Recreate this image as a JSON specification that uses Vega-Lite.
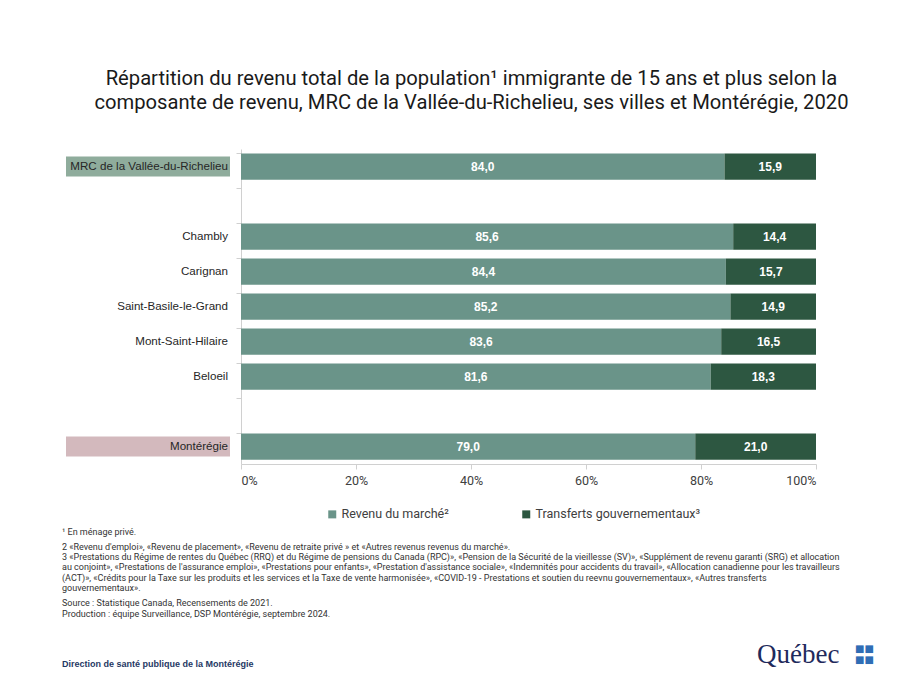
{
  "$schema": "https://vega.github.io/schema/vega-lite/v6.json",
  "padding": {"left": 55, "top": 68, "right": 0, "bottom": 0},
  "background": "white",
  "config": {
    "locale": {"number": {"decimal": ",", "thousands": "\u00a0", "grouping": [3], "currency": ["", "\u00a0$"]}},
    "view": {"stroke": null},
    "concat": {"spacing": 0}
  },
  "title": {
    "text": ["Répartition du revenu total de la population¹ immigrante de 15 ans et plus selon la", "composante de revenu, MRC de la Vallée-du-Richelieu, ses villes et Montérégie, 2020"],
    "font": "Roboto",
    "fontSize": 20.2,
    "fontWeight": "normal",
    "color": "#1a1a1a",
    "lineHeight": 24,
    "anchor": "middle",
    "dx": 7,
    "offset": 36
  },
  "datasets": {
    "revenu": [
      {"lieu": "MRC de la Vallée-du-Richelieu", "composante": "Revenu du marché²", "ordre": 1, "valeur": 84.0},
      {"lieu": "MRC de la Vallée-du-Richelieu", "composante": "Transferts gouvernementaux³", "ordre": 2, "valeur": 15.9},
      {"lieu": "Chambly", "composante": "Revenu du marché²", "ordre": 1, "valeur": 85.6},
      {"lieu": "Chambly", "composante": "Transferts gouvernementaux³", "ordre": 2, "valeur": 14.4},
      {"lieu": "Carignan", "composante": "Revenu du marché²", "ordre": 1, "valeur": 84.4},
      {"lieu": "Carignan", "composante": "Transferts gouvernementaux³", "ordre": 2, "valeur": 15.7},
      {"lieu": "Saint-Basile-le-Grand", "composante": "Revenu du marché²", "ordre": 1, "valeur": 85.2},
      {"lieu": "Saint-Basile-le-Grand", "composante": "Transferts gouvernementaux³", "ordre": 2, "valeur": 14.9},
      {"lieu": "Mont-Saint-Hilaire", "composante": "Revenu du marché²", "ordre": 1, "valeur": 83.6},
      {"lieu": "Mont-Saint-Hilaire", "composante": "Transferts gouvernementaux³", "ordre": 2, "valeur": 16.5},
      {"lieu": "Beloeil", "composante": "Revenu du marché²", "ordre": 1, "valeur": 81.6},
      {"lieu": "Beloeil", "composante": "Transferts gouvernementaux³", "ordre": 2, "valeur": 18.3},
      {"lieu": "Montérégie", "composante": "Revenu du marché²", "ordre": 1, "valeur": 79.0},
      {"lieu": "Montérégie", "composante": "Transferts gouvernementaux³", "ordre": 2, "valeur": 21.0}
    ],
    "etiquettes": [
      {"lieu": "MRC de la Vallée-du-Richelieu", "type": "MRC"},
      {"lieu": "Chambly", "type": "ville"},
      {"lieu": "Carignan", "type": "ville"},
      {"lieu": "Saint-Basile-le-Grand", "type": "ville"},
      {"lieu": "Mont-Saint-Hilaire", "type": "ville"},
      {"lieu": "Beloeil", "type": "ville"},
      {"lieu": "Montérégie", "type": "région"}
    ]
  },
  "vconcat": [
    {
      "hconcat": [
        {
          "width": 180,
          "height": 315,
          "data": {"name": "etiquettes"},
          "layer": [
            {
              "transform": [{"filter": "datum.type !== 'ville'"}],
              "mark": {"type": "bar", "height": 20},
              "encoding": {
                "y": {"field": "lieu", "type": "nominal", "axis": null,
                      "scale": {"domain": ["MRC de la Vallée-du-Richelieu", "vide1", "Chambly", "Carignan", "Saint-Basile-le-Grand", "Mont-Saint-Hilaire", "Beloeil", "vide2", "Montérégie"], "paddingInner": 0.25, "paddingOuter": 0.125}},
                "x": {"datum": 11, "type": "quantitative", "axis": null, "scale": {"domain": [0, 180], "nice": false, "zero": false}},
                "x2": {"datum": 175},
                "color": {"field": "type", "type": "nominal", "legend": null,
                          "scale": {"domain": ["MRC", "région"], "range": ["#8fac9c", "#d3b9bd"]}}
              }
            },
            {
              "mark": {"type": "text", "align": "right", "baseline": "middle", "font": "Liberation Sans", "fontSize": 11.6, "color": "#262626"},
              "encoding": {
                "y": {"field": "lieu", "type": "nominal", "axis": null},
                "x": {"datum": 173, "type": "quantitative"},
                "text": {"field": "lieu"}
              }
            }
          ]
        },
        {
          "width": 575,
          "height": 315,
          "data": {"name": "revenu"},
          "transform": [
            {"stack": "valeur", "groupby": ["lieu"], "sort": [{"field": "ordre", "order": "ascending"}], "offset": "normalize", "as": ["x0", "x1"]},
            {"calculate": "(datum.x0 + datum.x1) / 2", "as": "milieu"}
          ],
          "layer": [
            {
              "mark": {"type": "bar"},
              "encoding": {
                "y": {"field": "lieu", "type": "nominal",
                      "scale": {"domain": ["MRC de la Vallée-du-Richelieu", "vide1", "Chambly", "Carignan", "Saint-Basile-le-Grand", "Mont-Saint-Hilaire", "Beloeil", "vide2", "Montérégie"], "paddingInner": 0.25, "paddingOuter": 0.125},
                      "axis": {"title": null, "labels": false, "ticks": true, "bandPosition": 0, "tickSize": 5, "tickColor": "#d0d0d0", "domainColor": "#d0d0d0", "grid": false}},
                "x": {"field": "x0", "type": "quantitative",
                      "scale": {"domain": [0, 1], "nice": false},
                      "axis": {"title": null, "format": "%", "values": [0, 0.2, 0.4, 0.6, 0.8, 1], "grid": false, "tickSize": 5, "tickColor": "#d0d0d0", "domainColor": "#d0d0d0", "labelFont": "Roboto", "labelFontSize": 12.5, "labelColor": "#404040", "labelPadding": 5}},
                "x2": {"field": "x1"},
                "color": {"field": "composante", "type": "nominal",
                          "scale": {"domain": ["Revenu du marché²", "Transferts gouvernementaux³"], "range": ["#6a9489", "#2d5741"]},
                          "legend": {"title": null, "orient": "none", "legendX": 85, "legendY": 359, "direction": "horizontal", "symbolType": "square", "symbolSize": 64, "symbolStrokeWidth": 0, "labelFont": "Roboto", "labelFontSize": 12.5, "labelColor": "#404040", "labelLimit": 300, "columnPadding": 71, "labelOffset": 3}}
              }
            },
            {
              "mark": {"type": "text", "align": "center", "baseline": "middle", "font": "Liberation Sans", "fontWeight": "bold", "fontSize": 12, "color": "white"},
              "encoding": {
                "y": {"field": "lieu", "type": "nominal"},
                "x": {"field": "milieu", "type": "quantitative"},
                "text": {"field": "valeur", "type": "quantitative", "format": ".1f"}
              }
            }
          ]
        }
      ],
      "resolve": {"scale": {"color": "independent", "x": "independent"}}
    },
    {
      "width": 800,
      "height": 148,
      "data": {"values": [{}]},
      "encoding": {
        "x": {"type": "quantitative", "scale": {"domain": [0, 800], "nice": false, "zero": false}, "axis": null},
        "y": {"type": "quantitative", "scale": {"domain": [0, 148], "nice": false, "zero": false, "reverse": true}, "axis": null}
      },
      "layer": [
        {
          "mark": {"type": "text", "align": "left", "baseline": "alphabetic", "font": "Roboto", "fontSize": 9, "color": "#333333"},
          "encoding": {"x": {"datum": 7}, "y": {"datum": 9}, "text": {"value": "¹ En ménage privé."}}
        },
        {
          "mark": {"type": "text", "align": "left", "baseline": "alphabetic", "font": "Roboto", "fontSize": 9, "color": "#333333", "lineHeight": 10.2},
          "encoding": {"x": {"datum": 7}, "y": {"datum": 24},
            "text": {"value": [
              "2 «Revenu d'emploi», «Revenu de placement», «Revenu de retraite privé » et  «Autres revenus revenus du marché».",
              "3 «Prestations du Régime de rentes du Québec (RRQ) et du Régime de pensions du Canada (RPC)», «Pension de la Sécurité de la vieillesse (SV)», «Supplément de revenu garanti (SRG) et allocation",
              "au conjoint», «Prestations de l'assurance emploi», «Prestations pour enfants», «Prestation d'assistance sociale», «Indemnités pour accidents du travail», «Allocation canadienne pour les travailleurs",
              "(ACT)», «Crédits pour la Taxe sur les produits et les services et la Taxe de vente harmonisée», «COVID-19 - Prestations et soutien du reevnu gouvernementaux», «Autres transferts",
              "gouvernementaux»."
            ]}}
        },
        {
          "mark": {"type": "text", "align": "left", "baseline": "alphabetic", "font": "Roboto", "fontSize": 9, "color": "#333333", "lineHeight": 11},
          "encoding": {"x": {"datum": 7}, "y": {"datum": 80},
            "text": {"value": ["Source : Statistique Canada, Recensements de 2021.", "Production : équipe Surveillance, DSP Montérégie, septembre 2024."]}}
        },
        {
          "mark": {"type": "text", "align": "left", "baseline": "alphabetic", "font": "Liberation Sans", "fontWeight": "bold", "fontSize": 9, "color": "#1f3864"},
          "encoding": {"x": {"datum": 7}, "y": {"datum": 141}, "text": {"value": "Direction de santé publique de la Montérégie"}}
        },
        {
          "mark": {"type": "text", "align": "left", "baseline": "alphabetic", "font": "Liberation Serif", "fontSize": 27, "color": "#1f2a5c"},
          "encoding": {"x": {"datum": 702}, "y": {"datum": 137}, "text": {"value": "Québec"}}
        },
        {
          "mark": {"type": "text", "align": "left", "baseline": "alphabetic", "font": "DejaVu Sans", "fontSize": 10, "color": "#2f6db5", "lineHeight": 11},
          "encoding": {"x": {"datum": 800}, "y": {"datum": 126}, "text": {"value": ["■■", "■■"]}}
        }
      ]
    }
  ],
  "spacing": 5
}
